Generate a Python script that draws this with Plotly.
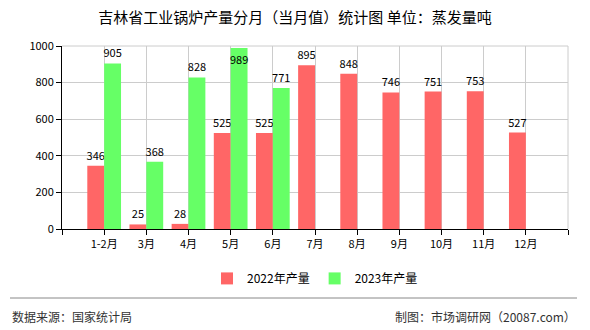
import plotly.graph_objects as go

categories = ["1-2月", "3月", "4月", "5月", "6月", "7月", "8月", "9月", "10月", "11月", "12月"]
values_2022 = [346, 25, 28, 525, 525, 895, 848, 746, 751, 753, 527]
values_2023 = [905, 368, 828, 989, 771]
y_ticks = [0, 200, 400, 600, 800, 1000]

FONT = "Noto Sans CJK SC"
x_pos = list(range(len(categories)))

fig = go.Figure()
fig.add_trace(go.Bar(
    x=x_pos, y=values_2022, name="2022年产量",
    marker=dict(color="#FF6666", line=dict(width=0)),
    text=[str(v) for v in values_2022], textposition="outside", textangle=0,
    textfont=dict(size=11, color="black", family=FONT), cliponaxis=False,
))
pos23 = ["inside" if v > 960 else "outside" for v in values_2023]
fig.add_trace(go.Bar(
    x=x_pos[:len(values_2023)], y=values_2023, name="2023年产量",
    marker=dict(color="#66FF66", line=dict(width=0)),
    text=[str(v) for v in values_2023], textposition=pos23, textangle=0,
    insidetextanchor="end", insidetextfont=dict(size=11, color="black", family=FONT),
    outsidetextfont=dict(size=11, color="black", family=FONT), cliponaxis=False,
))

tickvals = list(range(-1, len(categories) + 1))
ticktext = [""] + categories + [""]

fig.update_layout(
    width=590, height=330,
    margin=dict(l=62, r=22, t=46, b=101),
    paper_bgcolor="white", plot_bgcolor="white",
    barmode="group", bargap=0.2, bargroupgap=0,
    font=dict(family=FONT, size=11, color="black"),
    uniformtext=dict(minsize=11, mode="show"),
    title=dict(text="吉林省工业锅炉产量分月（当月值）统计图 单位：蒸发量吨",
               x=0.5, xanchor="center", y=0.945, yanchor="middle",
               font=dict(size=15, family=FONT, color="black")),
    xaxis=dict(range=[-1, len(categories)], tickmode="array", tickvals=tickvals, ticktext=ticktext,
               showgrid=True, gridcolor="#CCCCCC", gridwidth=1,
               showline=True, linecolor="black", linewidth=1,
               ticks="outside", ticklen=5, tickcolor="black",
               tickfont=dict(size=11, family=FONT), zeroline=False),
    yaxis=dict(range=[0, 1000], tickmode="array", tickvals=y_ticks,
               showgrid=True, gridcolor="#CCCCCC", gridwidth=1,
               showline=True, linecolor="black", linewidth=1,
               ticks="outside", ticklen=5, tickcolor="black",
               tickfont=dict(size=11, family=FONT), zeroline=False),
    legend=dict(orientation="h", x=0.5, xanchor="center", y=-0.27, yanchor="middle",
                font=dict(size=12, family=FONT), itemwidth=30, traceorder="normal"),
    showlegend=True,
)

fig.add_shape(type="line", xref="paper", yref="paper", x0=1, x1=1, y0=0, y1=1,
              line=dict(color="#CCCCCC", width=1), layer="below")
fig.add_shape(type="line", xref="paper", yref="paper", x0=0, x1=1, y0=1, y1=1,
              line=dict(color="#CCCCCC", width=1), layer="below")
# footer separator
fig.add_shape(type="line", xref="paper", yref="paper",
              x0=-52/506, x1=(577-62)/506, y0=-(298-229)/183, y1=-(298-229)/183,
              line=dict(color="#888888", width=1))
fig.add_annotation(text="数据来源：国家统计局", xref="paper", yref="paper",
                   x=-52/506, y=-(316-229)/183, xanchor="left", yanchor="middle",
                   showarrow=False, font=dict(size=12, family=FONT, color="#333333"))
fig.add_annotation(text="制图：市场调研网（20087.com）", xref="paper", yref="paper",
                   x=(578-62)/506, y=-(316-229)/183, xanchor="right", yanchor="middle",
                   showarrow=False, font=dict(size=12, family=FONT, color="#333333"))

fig.write_html("out.html")
